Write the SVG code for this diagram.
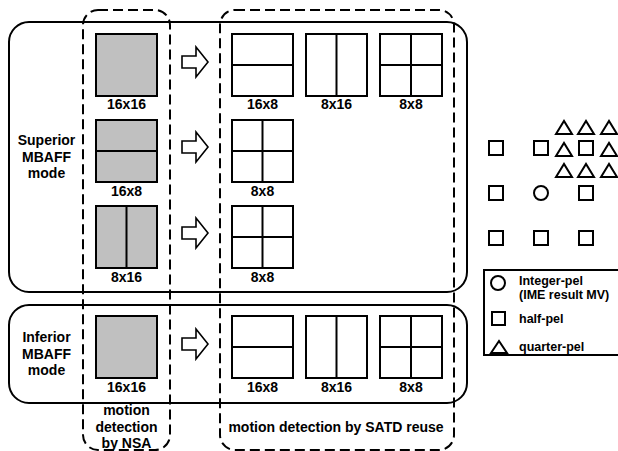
<svg xmlns="http://www.w3.org/2000/svg" width="618" height="451" viewBox="0 0 618 451">
<style>
.t{font-family:"Liberation Sans",Arial,sans-serif;font-weight:bold;font-size:14px;fill:#000;text-anchor:middle}
.lg{font-family:"Liberation Sans",Arial,sans-serif;font-weight:bold;font-size:12.5px;fill:#000}
.s{fill:none;stroke:#000;stroke-width:2}
.g{fill:#c0c0c0;stroke:#000;stroke-width:2}
.w{fill:#fff;stroke:#000;stroke-width:2}
.d{fill:none;stroke:#000;stroke-width:2;stroke-dasharray:10,5}
.ar{fill:#fff;stroke:#000;stroke-width:1.6;stroke-linejoin:miter}
</style>
<rect width="618" height="451" fill="#fff"/>
<g id="superior">
<rect class="s" x="9" y="22" width="458" height="270" rx="20"/>
<text class="t" x="46.5" y="145">Superior</text>
<text class="t" x="46.5" y="161.5">MBAFF</text>
<text class="t" x="46.5" y="178">mode</text>
</g>
<g id="inferior">
<rect class="s" x="9" y="305" width="458" height="98" rx="20"/>
<text class="t" x="46.5" y="342">Inferior</text>
<text class="t" x="46.5" y="358.5">MBAFF</text>
<text class="t" x="46.5" y="375">mode</text>
</g>
<g id="nsa">
<rect class="d" x="83" y="10" width="87" height="440" rx="15"/>
<text class="t" x="126.5" y="415">motion</text>
<text class="t" x="126.5" y="431.5">detection</text>
<text class="t" x="126.5" y="448">by NSA</text>
</g>
<g id="satd">
<rect class="d" x="220" y="10" width="234" height="440" rx="15"/>
<text class="t" x="336" y="432">motion detection by SATD reuse</text>
</g>
<g id="nsa-16x16-sup">
<rect class="g" x="96" y="34" width="61" height="62"/>
<text class="t" x="126.5" y="109">16x16</text>
</g>
<g id="nsa-16x8">
<rect class="g" x="96" y="120" width="61" height="62"/>
<line class="s" x1="96" y1="151" x2="157" y2="151"/>
<text class="t" x="126.5" y="196">16x8</text>
</g>
<g id="nsa-8x16">
<rect class="g" x="96" y="206" width="61" height="62"/>
<line class="s" x1="126.5" y1="206" x2="126.5" y2="268"/>
<text class="t" x="126.5" y="282">8x16</text>
</g>
<g id="nsa-16x16-inf">
<rect class="g" x="96" y="316" width="61" height="62"/>
<text class="t" x="126.5" y="392">16x16</text>
</g>
<g id="r1-16x8">
<rect class="w" x="232" y="34" width="61" height="62"/>
<line class="s" x1="232" y1="65" x2="293" y2="65"/>
<text class="t" x="262.5" y="109">16x8</text>
</g>
<g id="r1-8x16">
<rect class="w" x="306" y="34" width="61" height="62"/>
<line class="s" x1="336.5" y1="34" x2="336.5" y2="96"/>
<text class="t" x="336.5" y="109">8x16</text>
</g>
<g id="r1-8x8">
<rect class="w" x="380" y="34" width="62" height="62"/>
<line class="s" x1="411" y1="34" x2="411" y2="96"/>
<line class="s" x1="380" y1="65" x2="442" y2="65"/>
<text class="t" x="411" y="109">8x8</text>
</g>
<g id="r2-8x8">
<rect class="w" x="232" y="120" width="61" height="62"/>
<line class="s" x1="262.5" y1="120" x2="262.5" y2="182"/>
<line class="s" x1="232" y1="151" x2="293" y2="151"/>
<text class="t" x="262.5" y="196">8x8</text>
</g>
<g id="r3-8x8">
<rect class="w" x="232" y="206" width="61" height="62"/>
<line class="s" x1="262.5" y1="206" x2="262.5" y2="268"/>
<line class="s" x1="232" y1="237" x2="293" y2="237"/>
<text class="t" x="262.5" y="282">8x8</text>
</g>
<g id="r4-16x8">
<rect class="w" x="232" y="316" width="61" height="62"/>
<line class="s" x1="232" y1="347" x2="293" y2="347"/>
<text class="t" x="262.5" y="392">16x8</text>
</g>
<g id="r4-8x16">
<rect class="w" x="306" y="316" width="61" height="62"/>
<line class="s" x1="336.5" y1="316" x2="336.5" y2="378"/>
<text class="t" x="336.5" y="392">8x16</text>
</g>
<g id="r4-8x8">
<rect class="w" x="380" y="316" width="62" height="62"/>
<line class="s" x1="411" y1="316" x2="411" y2="378"/>
<line class="s" x1="380" y1="347" x2="442" y2="347"/>
<text class="t" x="411" y="392">8x8</text>
</g>
<g id="connectors">
<path class="ar" d="M182,56 H196 V47 L208,62 L196,77 V68 H182 Z"/>
<path class="ar" d="M182,141 H196 V132 L208,147 L196,162 V153 H182 Z"/>
<path class="ar" d="M182,227 H196 V218 L208,233 L196,248 V239 H182 Z"/>
<path class="ar" d="M182,338 H196 V329 L208,344 L196,359 V350 H182 Z"/>
</g>
<g id="pel-grid">
<rect class="s" x="489" y="141" width="14" height="14"/>
<rect class="s" x="534" y="141" width="14" height="14"/>
<rect class="s" x="579" y="141" width="14" height="14"/>
<rect class="s" x="489" y="186" width="14" height="14"/>
<circle class="s" cx="541" cy="193" r="7"/>
<rect class="s" x="579" y="186" width="14" height="14"/>
<rect class="s" x="489" y="231" width="14" height="14"/>
<rect class="s" x="534" y="231" width="14" height="14"/>
<rect class="s" x="579" y="231" width="14" height="14"/>
<path class="s" d="M556,134 L564,121 L572,134 Z M578,134 L586,121 L594,134 Z M601,134 L609,121 L617,134 Z"/>
<path class="s" d="M556,156 L564,143 L572,156 Z M601,156 L609,143 L617,156 Z"/>
<path class="s" d="M556,177 L564,164 L572,177 Z M578,177 L586,164 L594,177 Z M601,177 L609,164 L617,177 Z"/>
</g>
<g id="legend">
<rect class="s" x="484" y="270" width="140" height="85"/>
<circle class="s" cx="498" cy="283" r="7"/>
<text class="lg" x="519" y="285">Integer-pel</text>
<text class="lg" x="519" y="299">(IME result MV)</text>
<rect class="s" x="492" y="312" width="13" height="13"/>
<text class="lg" x="519" y="323">half-pel</text>
<path class="s" d="M491,353 L499,341 L507,353 Z"/>
<text class="lg" x="519" y="351">quarter-pel</text>
</g>
</svg>
